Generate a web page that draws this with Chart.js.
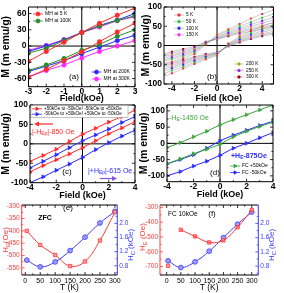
<!DOCTYPE html>
<html>
<head>
<meta charset="utf-8">
<script src="https://cdn.jsdelivr.net/npm/chart.js@4.4.0/dist/chart.umd.min.js"></script>
<style>
  html, body { margin: 0; padding: 0; background: #fff; }
  #wrap { position: relative; width: 284px; height: 293px; overflow: hidden; background: #fff; }
  canvas { position: absolute; }
</style>
</head>
<body>
<div id="wrap">
  <canvas id="chartA"></canvas>
  <canvas id="chartB"></canvas>
  <canvas id="chartC"></canvas>
  <canvas id="chartD"></canvas>
  <canvas id="chartE"></canvas>
  <canvas id="chartF"></canvas>
</div>
<script>
// ---------- data ----------

// (a) MH loops, upper / lower branch per temperature
const fieldA = [-3, -2, -1, 0, 1, 2, 3];
const mh5Up = [-28, -10, 7, 25, 42, 57, 70];
const mh5Down = [-57, -43, -27, -11, 8, 26, 42];
const mh100Up = [-13, -4, 10, 25, 37, 47, 56];
const mh100Down = [-45, -35, -23, -8, 3, 18, 30];
const mh200Up = [-10, 0, 11, 25, 38, 48, 60];
const mh200Down = [-47, -37, -27, -14, -2, 10, 20];
const mh300Up = [-8, 1, 12, 25, 35, 47, 54];
const mh300Down = [-57, -45, -35, -22, -10, 0, 10];
const ticksAx = [-3, -2, -1, 0, 1, 2, 3];
const ticksAy = [-60, -30, 0, 30, 60];

// (b) loops 5 K .. 300 K
const fieldB = [-5, -4, -3, -2, -1, 0, 1, 2, 3, 4, 5];
const b5Up = [-48, -42, -33, -22, 2, 28, 42, 56, 70, 82, 92];
const b5Down = [-85, -72, -60, -48, -36, -26, 5, 24, 38, 50, 60];
const b50Up = [-42, -36, -28, -18, 4, 25, 38, 50, 61, 72, 82];
const b50Down = [-76, -65, -55, -44, -33, -24, 3, 20, 33, 44, 53];
const b100Up = [-38, -32, -24, -15, 6, 22, 34, 45, 55, 64, 73];
const b100Down = [-68, -60, -50, -40, -30, -22, 2, 17, 29, 38, 47];
const b150Up = [-34, -28, -20, -12, 7, 20, 31, 41, 50, 58, 66];
const b150Down = [-62, -56, -46, -37, -28, -21, 1, 14, 25, 34, 42];
const b200Up = [-30, -24, -17, -9, 8, 18, 28, 37, 45, 52, 59];
const b200Down = [-56, -52, -43, -34, -26, -20, 0, 12, 22, 30, 37];
const b250Up = [-27, -20, -13, -6, 9, 17, 26, 34, 41, 47, 53];
const b250Down = [-52, -48, -40, -31, -24, -19, -1, 10, 19, 27, 33];
const b300Up = [-24, -16, -9, -3, 10, 16, 24, 31, 37, 43, 48];
const b300Down = [-48, -45, -37, -29, -22, -18, -2, 8, 17, 24, 30];
const tempLabelsB = ['5 K', '50 K', '100 K', '150 K', '200 K', '250 K', '300 K'];
const ticksBx = [-4, -2, 0, 2, 4];
const ticksBy = [-100, -50, 0, 50, 100];

// (c) +50 kOe / -50 kOe cooled loops
const fieldCD = [-4, -3, -2, -1, 0, 1, 2, 3, 4];
const cRedUp = [-45, -30, -14, 6, 25, 40, 56, 70, 87];
const cRedDown = [-72, -56, -41, -26, -10, 8, 26, 41, 57];
const cBlueUp = [-62, -45, -28, -10, 8, 23, 38, 55, 70];
const cBlueDown = [-100, -85, -68, -52, -35, -15, 3, 20, 35];
const ticksCDx = [-4, -2, 0, 2, 4];
const ticksCy = [-100, -50, 0, 50, 100];

// (d) FC +50 kOe / FC -50 kOe
const dGreenUp = [-13, 2, 20, 37, 57, 73, 88, 103, 118];
const dGreenDown = [-63, -48, -32, -18, -3, 20, 37, 52, 65];
const dBlueUp = [-63, -50, -35, -15, 8, 25, 40, 55, 68];
const dBlueDown = [-100, -87, -70, -55, -37, -15, 0, 17, 33];
const ticksDy = [-100, -50, 0, 50, 100];

// (e) ZFC, (f) FC 10 kOe : HE (Oe) and HC (kOe) vs T
const tempsEF = [5, 50, 100, 150, 200, 250, 300];
const heZfc = [-400, -457, -498, -543, -524, -439, -324];
const hcZfc = [0.96, 0.77, 0.91, 1.23, 1.61, 2.01, 2.34];
const heFc = [-695, -452, -496, -537, -523, -434, -318];
const hcFc = [0.95, 0.76, 0.92, 1.22, 1.60, 1.98, 2.32];
const ticksTx = [0, 50, 100, 150, 200, 250, 300];
const ticksHeE = [-550, -500, -450, -400, -350, -300];
const ticksHeF = [-700, -600, -500, -400, -300];
const ticksHc = [0.8, 1.2, 1.6, 2.0];

// ---------- helpers ----------
const FONT = '"Liberation Sans", Arial, sans-serif';
const RED = '#ff2a2a', GREEN = '#2e8b2e', BLUE = '#2a2aff', MAG = '#ff2aff';

function pts(xs, ys) { return xs.map((x, i) => ({ x: x, y: ys[i] })); }

function place(id, box) {
  const c = document.getElementById(id);
  c.width = box.w; c.height = box.h;
  c.style.left = box.x + 'px'; c.style.top = box.y + 'px';
  return c;
}

function line(ctx, x1, y1, x2, y2, color, w) {
  ctx.strokeStyle = color; ctx.lineWidth = w || 1;
  ctx.beginPath(); ctx.moveTo(x1, y1); ctx.lineTo(x2, y2); ctx.stroke();
}

function marks(sc) {
  const v = sc.ticks.map(t => t.value), out = [];
  v.forEach(x => out.push([sc.getPixelForValue(x), 3]));
  if (v.length > 1) {
    const step = v[1] - v[0];
    for (let x = v[0] - step / 2; x <= sc.max; x += step) {
      if (x >= sc.min) out.push([sc.getPixelForValue(x), 1.6]);
    }
  }
  return out;
}

// box, inward ticks and the zero cross
function framePlugin(cfg) {
  return {
    id: 'frame',
    beforeDatasetsDraw(chart) {
      if (!cfg.zero) return;
      const { ctx, chartArea: a, scales } = chart;
      const x0 = scales.x.getPixelForValue(0), y0 = scales.y.getPixelForValue(0);
      ctx.save();
      line(ctx, x0, a.top, x0, a.bottom, '#000', 1);
      line(ctx, a.left, y0, a.right, y0, '#000', 1);
      ctx.restore();
    },
    afterDatasetsDraw(chart) {
      const { ctx, chartArea: a, scales } = chart;
      const lc = cfg.left || '#000', rc = cfg.right || '#000';
      const yl = scales.y, yr = scales.y2 || scales.y;
      ctx.save();
      marks(scales.x).forEach(m => {
        line(ctx, m[0], a.bottom, m[0], a.bottom - m[1], '#000', 0.8);
        line(ctx, m[0], a.top, m[0], a.top + m[1], '#000', 0.8);
      });
      marks(yl).forEach(m => line(ctx, a.left, m[0], a.left + m[1], m[0], lc, 0.8));
      marks(yr).forEach(m => line(ctx, a.right, m[0], a.right - m[1], m[0], rc, 0.8));
      line(ctx, a.left, a.top, a.right, a.top, '#000', 1);
      line(ctx, a.left, a.bottom, a.right, a.bottom, '#000', 1);
      line(ctx, a.left, a.top, a.left, a.bottom, lc, 1);
      line(ctx, a.right, a.top, a.right, a.bottom, rc, 1);
      ctx.restore();
    }
  };
}

function marker(ctx, style, x, y, r, rot, color) {
  ctx.fillStyle = color; ctx.strokeStyle = color; ctx.lineWidth = 0.8;
  if (Chart.helpers && Chart.helpers.drawPoint) {
    Chart.helpers.drawPoint(ctx, { pointStyle: style, radius: r, rotation: rot || 0, borderWidth: 0.8 }, x, y);
  } else {
    ctx.beginPath(); ctx.arc(x, y, r, 0, Math.PI * 2); ctx.fill();
  }
}

function rich(ctx, it) {
  const size = it.size || 7, bold = it.bold ? 'bold ' : '';
  const fontOf = p => bold + (p[1] === 'sub' ? size * 0.72 : size) + 'px ' + FONT;
  let total = 0;
  it.parts.forEach(p => { ctx.font = fontOf(p); total += ctx.measureText(p[0]).width; });
  ctx.save();
  ctx.translate(it.x, it.y);
  if (it.rot) ctx.rotate(it.rot * Math.PI / 180);
  ctx.fillStyle = it.color || '#000';
  ctx.textBaseline = 'middle';
  ctx.textAlign = 'left';
  let cx = it.align === 'center' ? -total / 2 : 0;
  it.parts.forEach(p => {
    ctx.font = fontOf(p);
    ctx.fillText(p[0], cx, p[1] === 'sub' ? size * 0.3 : 0);
    cx += ctx.measureText(p[0]).width;
  });
  ctx.restore();
}

function drawItem(ctx, it) {
  if (it.k === 'text') {
    rich(ctx, it);
  } else if (it.k === 'box') {
    ctx.fillStyle = '#fff'; ctx.fillRect(it.x, it.y, it.w, it.h);
    ctx.strokeStyle = '#999'; ctx.lineWidth = 0.6; ctx.strokeRect(it.x, it.y, it.w, it.h);
  } else if (it.k === 'arrow') {
    const dir = Math.sign(it.x2 - it.x1);
    line(ctx, it.x1, it.y, it.x2 - dir * 3, it.y, it.color, 1.2);
    ctx.fillStyle = it.color;
    ctx.beginPath();
    ctx.moveTo(it.x2, it.y); ctx.lineTo(it.x2 - dir * 5, it.y - 2.5); ctx.lineTo(it.x2 - dir * 5, it.y + 2.5);
    ctx.closePath(); ctx.fill();
  } else if (it.k === 'key') {
    line(ctx, it.x - 5, it.y, it.x + 5, it.y, it.lineColor || it.color, 0.8);
    marker(ctx, it.style, it.x, it.y, it.r || 2, it.rot, it.color);
    rich(ctx, { x: it.x + 7, y: it.y, parts: [[it.label]], size: it.size || 5, color: '#000' });
  }
}

function notesPlugin(ox, oy, items) {
  return {
    id: 'notes',
    afterDraw(chart) {
      const ctx = chart.ctx;
      ctx.save();
      ctx.translate(-ox, -oy);
      items.forEach(it => drawItem(ctx, it));
      ctx.restore();
    }
  };
}

function axis(o) {
  return {
    type: 'linear', position: o.pos, min: o.min, max: o.max,
    grid: { display: false, drawTicks: false },
    border: { display: false },
    ticks: {
      font: { family: FONT, size: o.size || 8.5, weight: o.weight || 'bold' },
      color: o.color || '#000', padding: o.pad === undefined ? 2 : o.pad,
      autoSkip: false, maxRotation: 0, minRotation: 0,
      callback: o.fmt || (v => v)
    },
    afterBuildTicks: s => { s.ticks = o.ticks.map(v => ({ value: v })); },
    afterFit: s => {
      if (o.w !== undefined) s.width = o.w;
      if (o.h !== undefined) s.height = o.h;
      s.paddingLeft = 0; s.paddingRight = 0; s.paddingTop = 0; s.paddingBottom = 0;
    },
    title: o.title ? {
      display: true, text: o.title, color: '#000', padding: { top: 0, bottom: 0 },
      font: { family: FONT, size: o.tsize || 9, weight: o.tweight || 'bold' }
    } : { display: false }
  };
}

function loopSet(xs, ys, color, style, extra) {
  return Object.assign({
    data: pts(xs, ys), borderColor: color, backgroundColor: color,
    borderWidth: 1, pointRadius: 2.2, pointStyle: style, pointBorderWidth: 0.6,
    tension: 0, fill: false
  }, extra || {});
}

function baseOptions(pad, scales) {
  return {
    responsive: false, animation: false, devicePixelRatio: 1,
    layout: { padding: pad, autoPadding: false },
    plugins: { legend: { display: false }, tooltip: { enabled: false } },
    scales: scales
  };
}

// ---------- (a) ----------
const boxA = { x: 0, y: 0, w: 142, h: 104 };
new Chart(place('chartA', boxA), {
  type: 'line',
  data: { datasets: [
    loopSet(fieldA, mh5Up, RED, 'circle'), loopSet(fieldA, mh5Down, RED, 'circle'),
    loopSet(fieldA, mh100Up, GREEN, 'circle'), loopSet(fieldA, mh100Down, GREEN, 'circle'),
    loopSet(fieldA, mh200Up, BLUE, 'circle'), loopSet(fieldA, mh200Down, BLUE, 'circle'),
    loopSet(fieldA, mh300Up, MAG, 'circle'), loopSet(fieldA, mh300Down, MAG, 'circle')
  ] },
  options: baseOptions({ top: 7, right: 7, left: 0, bottom: 0 }, {
    x: axis({ pos: 'bottom', min: -3, max: 3, ticks: ticksAx, h: 17.3, pad: 0, title: 'Field(kOe)' }),
    y: axis({ pos: 'left', min: -75, max: 72, ticks: ticksAy, w: 28.5, title: 'M (m emu/g)', tsize: 10.5 })
  }),
  plugins: [framePlugin({ zero: true }), notesPlugin(boxA.x, boxA.y, [
    { k: 'key', x: 38, y: 14, style: 'circle', color: RED, label: 'MH at 5 K' },
    { k: 'key', x: 38, y: 21, style: 'circle', color: GREEN, label: 'MH at 100K' },
    { k: 'key', x: 96.5, y: 72, style: 'circle', color: BLUE, label: 'MH at 200K' },
    { k: 'key', x: 96.5, y: 79, style: 'circle', color: MAG, label: 'MH at 300K' },
    { k: 'text', x: 74, y: 77, parts: [['(a)']], size: 8, align: 'center' }
  ])]
});

// ---------- (b) ----------
const colorsB = ['#ff2a2a', '#22cc22', '#2a2aff', '#ff2aff', '#a8a800', '#a020e0', '#a00000'];
const upsB = [b5Up, b50Up, b100Up, b150Up, b200Up, b250Up, b300Up];
const downsB = [b5Down, b50Down, b100Down, b150Down, b200Down, b250Down, b300Down];
const setsB = [];
upsB.forEach((u, i) => {
  const ex = { borderColor: 'rgba(140,140,140,0.75)', borderWidth: 0.6, pointRadius: 1.4, pointBorderWidth: 0 };
  setsB.push(loopSet(fieldB, u, colorsB[i], 'rect', ex));
  setsB.push(loopSet(fieldB, downsB[i], colorsB[i], 'rect', ex));
});
const keysB = tempLabelsB.map((t, i) => ({
  k: 'key', x: i < 4 ? 179 : 239, y: i < 4 ? 15 + i * 6.6 : 64 + (i - 4) * 6.5,
  style: 'rect', r: 1.5, color: colorsB[i], lineColor: '#bbb', label: t, size: 4.8
}));
const boxB = { x: 140, y: 0, w: 144, h: 104 };
new Chart(place('chartB', boxB), {
  type: 'line',
  data: { datasets: setsB },
  options: baseOptions({ top: 7, right: 10.5, left: 0, bottom: 0 }, {
    x: axis({ pos: 'bottom', min: -4.7, max: 5, ticks: ticksBx, h: 20, pad: 0, title: 'Field (kOe)' }),
    y: axis({ pos: 'left', min: -100, max: 100, ticks: ticksBy, w: 24, title: 'M (m emu/g)', tsize: 10.5 })
  }),
  plugins: [framePlugin({ zero: true }), notesPlugin(boxB.x, boxB.y, keysB.concat([
    { k: 'text', x: 212, y: 77, parts: [['(b)']], size: 8, align: 'center' }
  ]))]
});

// ---------- (c) ----------
const boxC = { x: 0, y: 100, w: 142, h: 101 };
const triC = { pointRotation: 90, pointRadius: 2.4 };
new Chart(place('chartC', boxC), {
  type: 'line',
  data: { datasets: [
    loopSet(fieldCD, cRedUp, RED, 'triangle', triC), loopSet(fieldCD, cRedDown, RED, 'triangle', triC),
    loopSet(fieldCD, cBlueUp, BLUE, 'triangle', triC), loopSet(fieldCD, cBlueDown, BLUE, 'triangle', triC)
  ] },
  options: baseOptions({ top: 5, right: 7, left: 0, bottom: 0 }, {
    x: axis({ pos: 'bottom', min: -4, max: 4, ticks: ticksCDx, h: 18.3, pad: 0, title: 'Field (kOe)' }),
    y: axis({ pos: 'left', min: -100, max: 100, ticks: ticksCy, w: 30, title: 'M (m emu/g)', tsize: 10.5 })
  }),
  plugins: [framePlugin({ zero: true }), notesPlugin(boxC.x, boxC.y, [
    { k: 'box', x: 31, y: 105.5, w: 97, h: 12 },
    { k: 'key', x: 37, y: 108.8, style: 'triangle', rot: 90, color: RED, label: '+50kOe to -50kOe/ -50kOe to +50kOe', size: 4.6 },
    { k: 'key', x: 37, y: 114.2, style: 'triangle', rot: 90, color: BLUE, label: '-50kOe to +50kOe/ +50kOe to -50kOe', size: 4.6 },
    { k: 'arrow', x1: 53, x2: 34, y: 124, color: RED },
    { k: 'text', x: 32, y: 132, parts: [['|-H'], ['Ep', 'sub'], ['|-850 Oe']], size: 7, color: RED },
    { k: 'text', x: 67, y: 172, parts: [['(c)']], size: 8, align: 'center' },
    { k: 'text', x: 88, y: 171, parts: [['|+H'], ['Ep', 'sub'], ['|-615 Oe']], size: 7, color: BLUE },
    { k: 'arrow', x1: 100, x2: 117, y: 178.5, color: '#8a4de0' }
  ])]
});

// ---------- (d) ----------
const boxD = { x: 138, y: 100, w: 146, h: 100 };
const triD = { pointRotation: 90, pointRadius: 2.3 };
const GREEN_D = '#3aa63a';
new Chart(place('chartD', boxD), {
  type: 'line',
  data: { datasets: [
    loopSet(fieldCD, dGreenUp, GREEN_D, 'triangle', triD), loopSet(fieldCD, dGreenDown, GREEN_D, 'triangle', triD),
    loopSet(fieldCD, dBlueUp, BLUE, 'triangle', triD), loopSet(fieldCD, dBlueDown, BLUE, 'triangle', triD)
  ] },
  options: baseOptions({ top: 5, right: 11, left: 0, bottom: 0 }, {
    x: axis({ pos: 'bottom', min: -4, max: 4, ticks: ticksCDx, h: 18.3, pad: 0, title: 'Field (kOe)' }),
    y: axis({ pos: 'left', min: -118, max: 118, ticks: ticksDy, w: 29, title: 'M (m emu/g)', tsize: 10.5 })
  }),
  plugins: [framePlugin({ zero: true }), notesPlugin(boxD.x, boxD.y, [
    { k: 'text', x: 169, y: 118, parts: [['-H'], ['E', 'sub'], ['-1450 Oe']], size: 7, color: GREEN_D },
    { k: 'text', x: 231, y: 156, parts: [['+H'], ['E', 'sub'], ['-875Oe']], size: 7, color: BLUE, bold: true },
    { k: 'text', x: 215, y: 173, parts: [['(d)']], size: 8, align: 'center' },
    { k: 'key', x: 235, y: 166, style: 'triangle', rot: 90, color: GREEN_D, label: 'FC +50kOe', size: 5 },
    { k: 'key', x: 235, y: 172.5, style: 'triangle', rot: 90, color: BLUE, label: 'FC -50kOe', size: 5 }
  ])]
});

// ---------- (e) and (f) ----------
const RED_T = '#ff3a3a', BLUE_T = '#3a3aff';
function tempScales(o) {
  return {
    x: axis({ pos: 'bottom', min: o.xmin, max: o.xmax, ticks: ticksTx, h: 18, pad: 2, size: 7, weight: 'normal',
              title: 'T (K)', tsize: 8.5, tweight: 'normal' }),
    y: axis({ pos: 'left', min: o.hemin, max: o.hemax, ticks: o.heTicks, w: o.L, size: 6.5, weight: 'normal', color: RED_T }),
    y2: axis({ pos: 'right', min: o.hcmin, max: o.hcmax, ticks: ticksHc, w: o.R, size: 6.5, weight: 'normal', color: BLUE_T,
               fmt: v => v.toFixed(1) })
  };
}
const heStyle = { borderColor: RED_T, backgroundColor: '#ff9a9a', pointBorderColor: RED_T, pointStyle: 'rect',
                  pointRadius: 2.4, pointBorderWidth: 0.8, borderWidth: 1, yAxisID: 'y', tension: 0.4 };
const hcStyle = { borderColor: BLUE_T, backgroundColor: '#9a9aff', pointBorderColor: BLUE_T, pointStyle: 'circle',
                  pointRadius: 2.4, pointBorderWidth: 0.8, borderWidth: 1, yAxisID: 'y2', tension: 0.4 };

const boxE = { x: 0, y: 200, w: 142, h: 93 };
new Chart(place('chartE', boxE), {
  type: 'line',
  data: { datasets: [
    Object.assign({ data: pts(tempsEF, heZfc) }, heStyle),
    Object.assign({ data: pts(tempsEF, hcZfc) }, hcStyle)
  ] },
  options: baseOptions({ top: 5, right: 0, left: 0, bottom: 0 },
    tempScales({ xmin: -12, xmax: 308, hemin: -579, hemax: -295, heTicks: ticksHeE, hcmin: 0.54, hcmax: 2.52, L: 21.7, R: 24.7 })),
  plugins: [framePlugin({ left: RED_T, right: BLUE_T }), notesPlugin(boxE.x, boxE.y, [
    { k: 'text', x: 45, y: 218, parts: [['ZFC']], size: 7, bold: true, align: 'center' },
    { k: 'text', x: 68, y: 208, parts: [['(e)']], size: 8, align: 'center' },
    { k: 'text', x: 6, y: 240, rot: -90, align: 'center', parts: [['H'], ['E', 'sub'], ['(Oe)']], size: 8, color: RED_T },
    { k: 'text', x: 131, y: 245, rot: -90, align: 'center', parts: [['H'], ['C', 'sub'], [' (kOe)']], size: 8, color: BLUE_T }
  ])]
});

const boxF = { x: 138, y: 200, w: 146, h: 93 };
new Chart(place('chartF', boxF), {
  type: 'line',
  data: { datasets: [
    Object.assign({ data: pts(tempsEF.slice(1), heFc.slice(1)) }, heStyle, { pointRadius: 0 }),
    Object.assign({ data: pts(tempsEF, heFc), showLine: false }, heStyle),
    Object.assign({ data: pts(tempsEF, hcFc) }, hcStyle)
  ] },
  options: baseOptions({ top: 5, right: 0, left: 0, bottom: 0 },
    tempScales({ xmin: -23.5, xmax: 323, hemin: -757, hemax: -284, heTicks: ticksHeF, hcmin: 0.55, hcmax: 2.52, L: 22, R: 25.7 })),
  plugins: [framePlugin({ left: RED_T, right: BLUE_T }), notesPlugin(boxF.x, boxF.y, [
    { k: 'text', x: 168, y: 214, parts: [['FC 10kOe']], size: 6.5 },
    { k: 'text', x: 212, y: 214, parts: [['(f)']], size: 8, align: 'center' },
    { k: 'text', x: 143, y: 237, rot: -90, align: 'center', parts: [['H'], ['E', 'sub'], [' (Oe)']], size: 8, color: RED_T },
    { k: 'text', x: 272, y: 245, rot: -90, align: 'center', parts: [['H'], ['C', 'sub'], [' (kOe)']], size: 8, color: BLUE_T }
  ])]
});
</script>
</body>
</html>
